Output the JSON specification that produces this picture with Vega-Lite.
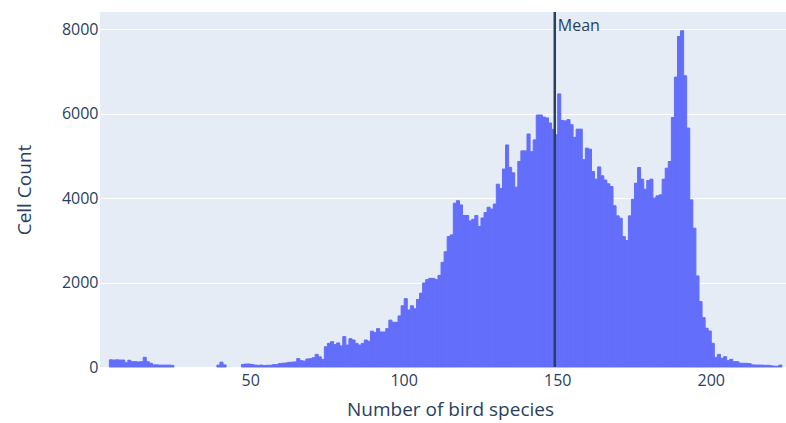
{
  "$schema": "https://vega.github.io/schema/vega-lite/v6.json",
  "width": 686,
  "height": 355,
  "autosize": {"type": "none"},
  "padding": {"left": 100, "top": 12, "right": 0, "bottom": 56},
  "background": "white",
  "config": {
    "view": {"fill": "#E5ECF6", "stroke": null},
    "font": "Open Sans",
    "axis": {
      "labelFont": "Open Sans",
      "titleFont": "Open Sans",
      "labelColor": "#2a3f5f",
      "titleColor": "#2a3f5f",
      "labelFontSize": 16,
      "titleFontSize": 19,
      "titleFontWeight": "normal",
      "domain": false,
      "ticks": false,
      "gridColor": "white",
      "gridWidth": 1,
      "gridOpacity": 1
    }
  },
  "datasets": {
    "hist": [
      {"species": 4, "count": 170}, {"species": 5, "count": 165}, {"species": 6, "count": 170}, {"species": 7, "count": 165},
      {"species": 8, "count": 165}, {"species": 9, "count": 100}, {"species": 10, "count": 160}, {"species": 11, "count": 125},
      {"species": 12, "count": 125}, {"species": 13, "count": 120}, {"species": 14, "count": 125}, {"species": 15, "count": 230},
      {"species": 16, "count": 125}, {"species": 17, "count": 90}, {"species": 18, "count": 50}, {"species": 19, "count": 50},
      {"species": 20, "count": 45}, {"species": 21, "count": 45}, {"species": 22, "count": 45}, {"species": 23, "count": 45},
      {"species": 24, "count": 40}, {"species": 39, "count": 45}, {"species": 40, "count": 115}, {"species": 41, "count": 50},
      {"species": 47, "count": 60}, {"species": 48, "count": 70}, {"species": 49, "count": 70}, {"species": 50, "count": 60},
      {"species": 51, "count": 45}, {"species": 52, "count": 40}, {"species": 53, "count": 45}, {"species": 54, "count": 35},
      {"species": 55, "count": 40}, {"species": 56, "count": 40}, {"species": 57, "count": 55}, {"species": 58, "count": 55},
      {"species": 59, "count": 80}, {"species": 60, "count": 90}, {"species": 61, "count": 95}, {"species": 62, "count": 110},
      {"species": 63, "count": 115}, {"species": 64, "count": 120}, {"species": 65, "count": 200}, {"species": 66, "count": 150},
      {"species": 67, "count": 140}, {"species": 68, "count": 190}, {"species": 69, "count": 195}, {"species": 70, "count": 220},
      {"species": 71, "count": 300}, {"species": 72, "count": 240}, {"species": 73, "count": 180}, {"species": 74, "count": 480},
      {"species": 75, "count": 560}, {"species": 76, "count": 600}, {"species": 77, "count": 530}, {"species": 78, "count": 570},
      {"species": 79, "count": 500}, {"species": 80, "count": 720}, {"species": 81, "count": 520}, {"species": 82, "count": 670},
      {"species": 83, "count": 640}, {"species": 84, "count": 560}, {"species": 85, "count": 520}, {"species": 86, "count": 560},
      {"species": 87, "count": 640}, {"species": 88, "count": 610}, {"species": 89, "count": 850}, {"species": 90, "count": 820},
      {"species": 91, "count": 910}, {"species": 92, "count": 830}, {"species": 93, "count": 830}, {"species": 94, "count": 910},
      {"species": 95, "count": 1110}, {"species": 96, "count": 1060}, {"species": 97, "count": 1060}, {"species": 98, "count": 1210},
      {"species": 99, "count": 1450}, {"species": 100, "count": 1620}, {"species": 101, "count": 1350}, {"species": 102, "count": 1450},
      {"species": 103, "count": 1380}, {"species": 104, "count": 1600}, {"species": 105, "count": 1750}, {"species": 106, "count": 1990},
      {"species": 107, "count": 2070}, {"species": 108, "count": 2100}, {"species": 109, "count": 2100}, {"species": 110, "count": 2070},
      {"species": 111, "count": 2170}, {"species": 112, "count": 2480}, {"species": 113, "count": 2730}, {"species": 114, "count": 3090},
      {"species": 115, "count": 3130}, {"species": 116, "count": 3880}, {"species": 117, "count": 3940}, {"species": 118, "count": 3840},
      {"species": 119, "count": 3590}, {"species": 120, "count": 3590}, {"species": 121, "count": 3460}, {"species": 122, "count": 3500},
      {"species": 123, "count": 3590}, {"species": 124, "count": 3330}, {"species": 125, "count": 3530}, {"species": 126, "count": 3660},
      {"species": 127, "count": 3785}, {"species": 128, "count": 3740}, {"species": 129, "count": 3860}, {"species": 130, "count": 4330},
      {"species": 131, "count": 4230}, {"species": 132, "count": 4690}, {"species": 133, "count": 5260}, {"species": 134, "count": 4730},
      {"species": 135, "count": 4600}, {"species": 136, "count": 4260}, {"species": 137, "count": 4870}, {"species": 138, "count": 5120},
      {"species": 139, "count": 5120}, {"species": 140, "count": 5520}, {"species": 141, "count": 5100}, {"species": 142, "count": 5380},
      {"species": 143, "count": 5970}, {"species": 144, "count": 5970}, {"species": 145, "count": 5920}, {"species": 146, "count": 5900},
      {"species": 147, "count": 5780}, {"species": 148, "count": 5630}, {"species": 149, "count": 5500}, {"species": 150, "count": 6470},
      {"species": 151, "count": 5840}, {"species": 152, "count": 5830}, {"species": 153, "count": 5860}, {"species": 154, "count": 5740},
      {"species": 155, "count": 5440}, {"species": 156, "count": 5635}, {"species": 157, "count": 5635}, {"species": 158, "count": 4910},
      {"species": 159, "count": 5185}, {"species": 160, "count": 5160}, {"species": 161, "count": 4630}, {"species": 162, "count": 4450},
      {"species": 163, "count": 4740}, {"species": 164, "count": 4530}, {"species": 165, "count": 4430}, {"species": 166, "count": 4340},
      {"species": 167, "count": 4275}, {"species": 168, "count": 3820}, {"species": 169, "count": 3580}, {"species": 170, "count": 3525},
      {"species": 171, "count": 3090}, {"species": 172, "count": 2995}, {"species": 173, "count": 3580}, {"species": 174, "count": 3975},
      {"species": 175, "count": 4355}, {"species": 176, "count": 4726}, {"species": 177, "count": 4450}, {"species": 178, "count": 4212},
      {"species": 179, "count": 4418}, {"species": 180, "count": 4450}, {"species": 181, "count": 4000}, {"species": 182, "count": 4054},
      {"species": 183, "count": 4078}, {"species": 184, "count": 4450}, {"species": 185, "count": 4710}, {"species": 186, "count": 4868},
      {"species": 187, "count": 5911}, {"species": 188, "count": 6868}, {"species": 189, "count": 7831}, {"species": 190, "count": 7966},
      {"species": 191, "count": 6899}, {"species": 192, "count": 5659}, {"species": 193, "count": 3959}, {"species": 194, "count": 3288},
      {"species": 195, "count": 2157}, {"species": 196, "count": 1549}, {"species": 197, "count": 1170}, {"species": 198, "count": 917},
      {"species": 199, "count": 853}, {"species": 200, "count": 561}, {"species": 201, "count": 229}, {"species": 202, "count": 300},
      {"species": 203, "count": 205}, {"species": 204, "count": 245}, {"species": 205, "count": 150}, {"species": 206, "count": 182},
      {"species": 207, "count": 126}, {"species": 208, "count": 126}, {"species": 209, "count": 90}, {"species": 210, "count": 87},
      {"species": 211, "count": 87}, {"species": 212, "count": 80}, {"species": 213, "count": 50}, {"species": 214, "count": 47},
      {"species": 215, "count": 47}, {"species": 216, "count": 45}, {"species": 217, "count": 40}, {"species": 218, "count": 40},
      {"species": 219, "count": 30}, {"species": 220, "count": 20}, {"species": 221, "count": 20}, {"species": 222, "count": 45}
    ],
    "mean": [{"value": 149.2, "label": "Mean"}]
  },
  "layer": [
    {
      "data": {"name": "hist"},
      "mark": {"type": "bar", "color": "#636EFA", "stroke": "#636EFA", "strokeWidth": 1, "binSpacing": 0, "opacity": 1},
      "encoding": {
        "x": {
          "field": "species",
          "type": "quantitative",
          "bin": {"binned": true, "step": 1},
          "scale": {"domain": [1.1, 224.5], "nice": false, "zero": false},
          "axis": {
            "title": "Number of bird species",
            "values": [50, 100, 150, 200],
            "format": "d",
            "grid": false,
            "labelPadding": 5,
            "titlePadding": 12,
            "titleX": 350
          }
        },
        "y": {
          "field": "count",
          "type": "quantitative",
          "scale": {"domain": [0, 8410], "nice": false},
          "axis": {
            "title": "Cell Count",
            "values": [0, 2000, 4000, 6000, 8000],
            "format": "d",
            "grid": true,
            "labelPadding": 2,
            "titlePadding": 27
          }
        }
      }
    },
    {
      "data": {"name": "mean"},
      "mark": {"type": "rule", "color": "#2a3f5f", "strokeWidth": 2.5},
      "encoding": {
        "x": {"field": "value", "type": "quantitative"}
      }
    },
    {
      "data": {"name": "mean"},
      "mark": {"type": "text", "align": "left", "baseline": "alphabetic", "dx": 3, "font": "Open Sans", "fontSize": 16, "color": "#2a3f5f"},
      "encoding": {
        "x": {"field": "value", "type": "quantitative"},
        "y": {"datum": 7950},
        "text": {"field": "label"}
      }
    }
  ]
}
